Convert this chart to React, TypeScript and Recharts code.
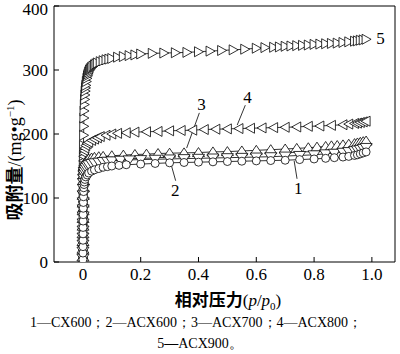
import React from "react";
import {
  ScatterChart,
  XAxis,
  YAxis,
  Scatter,
  ReferenceLine,
  ReferenceDot,
} from "recharts";

// [p/p0, adsorbed amount mg/g]
const cx600: [number, number][] = [
  [0.0001, 4], [0.0002, 14], [0.0003, 24], [0.0004, 34], [0.0005, 44], [0.0006, 54],
  [0.0008, 64], [0.001, 74], [0.0012, 84], [0.0015, 93], [0.002, 102], [0.0025, 110],
  [0.003, 116], [0.004, 121], [0.005, 125], [0.007, 129], [0.01, 133], [0.015, 136],
  [0.02, 139], [0.03, 142], [0.04, 144], [0.055, 146], [0.07, 148], [0.085, 149],
  [0.1, 150], [0.125, 151], [0.15, 152], [0.2, 153], [0.25, 154], [0.3, 155],
  [0.35, 155.5], [0.4, 156], [0.45, 156.5], [0.5, 157], [0.55, 157.5], [0.6, 158],
  [0.65, 158.5], [0.7, 159], [0.75, 160], [0.8, 161], [0.84, 162], [0.87, 163],
  [0.9, 164], [0.92, 165], [0.94, 166.5], [0.95, 167.5], [0.96, 169], [0.97, 170.5],
  [0.98, 172],
];

const acx600: [number, number][] = [
  [0.0001, 6], [0.0002, 17], [0.0003, 28], [0.0004, 39], [0.0005, 50], [0.0006, 61],
  [0.0008, 72], [0.001, 83], [0.0012, 94], [0.0015, 105], [0.002, 115], [0.0025, 124],
  [0.003, 131], [0.004, 137], [0.005, 141], [0.007, 145], [0.01, 148], [0.015, 150.5],
  [0.02, 152], [0.03, 154], [0.04, 155], [0.055, 156], [0.07, 157], [0.085, 157.5],
  [0.1, 158], [0.13, 159], [0.16, 159.5], [0.2, 160], [0.25, 160.5], [0.3, 161],
  [0.35, 161.5], [0.4, 162], [0.45, 162.5], [0.5, 163], [0.55, 163.5], [0.6, 164],
  [0.65, 164.5], [0.7, 165.5], [0.75, 166.5], [0.8, 167.5], [0.84, 169], [0.87, 170],
  [0.9, 171.5], [0.92, 172.5], [0.94, 174], [0.95, 175], [0.96, 176], [0.97, 177.5],
  [0.98, 179],
];

const acx700: [number, number][] = [
  [0.0001, 8], [0.0002, 20], [0.0003, 32], [0.0004, 44], [0.0005, 56], [0.0006, 68],
  [0.0008, 80], [0.001, 92], [0.0012, 104], [0.0015, 116], [0.002, 127], [0.0025, 136],
  [0.003, 142], [0.004, 147], [0.005, 150], [0.007, 154], [0.01, 157], [0.015, 159.5],
  [0.02, 161], [0.03, 162.5], [0.04, 163.5], [0.055, 164.5], [0.07, 165], [0.1, 166],
  [0.14, 167], [0.18, 168], [0.22, 168.5], [0.26, 169.5], [0.3, 170], [0.35, 170.5],
  [0.4, 171], [0.45, 172], [0.5, 172.5], [0.55, 173.5], [0.6, 174.5], [0.65, 175.5],
  [0.7, 176.5], [0.74, 177.5], [0.78, 178.5], [0.81, 179.5], [0.84, 180.5], [0.86, 181.5],
  [0.88, 182], [0.9, 183], [0.92, 184], [0.94, 185], [0.95, 186], [0.96, 187],
  [0.97, 188], [0.98, 189],
];

const acx800: [number, number][] = [
  [0.0001, 10], [0.0002, 24], [0.0003, 38], [0.0004, 52], [0.0005, 66], [0.0006, 80],
  [0.0008, 94], [0.001, 108], [0.0012, 122], [0.0015, 136], [0.002, 148], [0.0025, 158],
  [0.003, 165], [0.004, 170], [0.005, 174], [0.007, 178], [0.01, 182], [0.015, 185],
  [0.02, 187], [0.03, 190], [0.04, 192], [0.05, 194], [0.06, 196], [0.08, 198],
  [0.1, 200], [0.12, 201], [0.15, 202], [0.18, 203], [0.22, 203.5], [0.26, 204],
  [0.3, 205], [0.34, 205.5], [0.38, 206], [0.42, 207], [0.46, 207.5], [0.5, 208],
  [0.54, 208.5], [0.58, 209], [0.62, 209.5], [0.66, 210], [0.7, 210.5], [0.74, 211],
  [0.78, 212], [0.82, 212.5], [0.86, 213.5], [0.9, 214.5], [0.92, 215.5], [0.94, 216.5],
  [0.95, 217], [0.96, 218], [0.97, 219], [0.98, 220],
];

const acx900: [number, number][] = [
  [0.0001, 6], [0.0002, 22], [0.0003, 38], [0.0004, 54], [0.0005, 70], [0.0006, 86],
  [0.0008, 102], [0.001, 118], [0.0012, 134], [0.0015, 150], [0.0018, 166], [0.002, 182],
  [0.0025, 198], [0.003, 212], [0.0035, 225], [0.004, 236], [0.005, 246], [0.006, 254],
  [0.007, 261], [0.008, 267], [0.009, 272], [0.01, 276], [0.012, 282], [0.014, 287],
  [0.016, 291], [0.018, 294], [0.02, 297], [0.023, 300], [0.026, 302], [0.03, 304],
  [0.035, 306], [0.04, 308], [0.045, 309.5], [0.05, 311], [0.06, 313], [0.07, 314.5],
  [0.08, 316], [0.09, 317], [0.1, 318], [0.12, 320], [0.14, 321], [0.16, 322.5],
  [0.18, 323.5], [0.2, 325], [0.24, 326], [0.28, 326.5], [0.32, 327], [0.36, 327.5],
  [0.4, 328.5], [0.44, 329.5], [0.48, 330.5], [0.52, 331.5], [0.56, 332.5], [0.6, 334],
  [0.63, 335], [0.66, 335.5], [0.68, 336], [0.7, 337], [0.72, 337.5], [0.74, 338],
  [0.76, 338.5], [0.78, 339], [0.8, 340], [0.82, 340.5], [0.84, 341], [0.86, 341.5],
  [0.88, 342], [0.9, 343], [0.92, 344], [0.94, 345], [0.95, 345.5], [0.96, 346.5],
  [0.97, 347], [0.98, 348],
];

const xTicks = [0, 0.2, 0.4, 0.6, 0.8, 1.0];
const yTicks = [0, 100, 200, 300, 400];

const toPts = (arr: [number, number][]) => arr.map(([p, v]) => ({ p, v }));

const S = "#000";
const SW = 0.8;
const SERIF = "'Liberation Serif', serif";

const Circle = (props: any) => (
  <circle cx={props.cx} cy={props.cy} r={4} fill="#fff" stroke={S} strokeWidth={SW} />
);
const TriUp = (props: any) => {
  const { cx, cy } = props;
  return <path d={`M${cx},${cy - 5}L${cx + 6},${cy + 4}L${cx - 6},${cy + 4}Z`} fill="#fff" stroke={S} strokeWidth={SW} />;
};
const TriDown = (props: any) => {
  const { cx, cy } = props;
  return <path d={`M${cx},${cy + 5}L${cx + 6},${cy - 4}L${cx - 6},${cy - 4}Z`} fill="#fff" stroke={S} strokeWidth={SW} />;
};
const TriLeft = (props: any) => {
  const { cx, cy } = props;
  return <path d={`M${cx - 5},${cy}L${cx + 4},${cy - 5}L${cx + 4},${cy + 5}Z`} fill="#fff" stroke={S} strokeWidth={SW} />;
};
const TriRight = (props: any) => {
  const { cx, cy } = props;
  return <path d={`M${cx + 5},${cy}L${cx - 4},${cy - 5}L${cx - 4},${cy + 5}Z`} fill="#fff" stroke={S} strokeWidth={SW} />;
};

const XTick = (props: any) => {
  const { x, y, payload } = props;
  const v = payload.value as number;
  return (
    <text x={x} y={y + 12} textAnchor="middle" style={{ fontFamily: SERIF, fontSize: 17 }} fill="#000">
      {v === 0 ? "0" : v.toFixed(1)}
    </text>
  );
};
const YTick = (props: any) => {
  const { x, y, payload } = props;
  return (
    <text x={x} y={y + 6} textAnchor="end" style={{ fontFamily: SERIF, fontSize: 17 }} fill="#000">
      {payload.value}
    </text>
  );
};

const numLabel = (value: string) => ({
  value,
  position: "center" as const,
  style: { fontFamily: SERIF, fontSize: 17, fill: "#000" },
});

export default function App() {
  return (
    <div style={{ position: "absolute", left: 0, top: 0, width: 400, height: 354, background: "#fff", fontFamily: SERIF }}>
      <ScatterChart width={400} height={300} margin={{ top: 6, right: 5, bottom: 0, left: 0 }}>
        <XAxis
          type="number"
          dataKey="p"
          domain={[-0.1, 1.08]}
          ticks={xTicks}
          allowDataOverflow
          height={38}
          tickSize={-5}
          tickMargin={11}
          tick={<XTick />}
          axisLine={{ stroke: S, strokeWidth: 1 }}
          tickLine={{ stroke: S, strokeWidth: 1 }}
        />
        <YAxis
          type="number"
          dataKey="v"
          domain={[0, 400]}
          ticks={yTicks}
          allowDataOverflow
          width={54}
          tickSize={-5}
          tickMargin={11}
          tick={<YTick />}
          axisLine={{ stroke: S, strokeWidth: 1 }}
          tickLine={{ stroke: S, strokeWidth: 1 }}
        />
        <ReferenceLine y={400} stroke={S} strokeWidth={1} />
        <ReferenceLine x={1.08} stroke={S} strokeWidth={1} />
        <Scatter data={toPts(acx900)} shape={TriRight} line={{ stroke: S, strokeWidth: SW }} isAnimationActive={false} />
        <Scatter data={toPts(acx800)} shape={TriLeft} line={{ stroke: S, strokeWidth: SW }} isAnimationActive={false} />
        <Scatter data={toPts(acx700)} shape={TriUp} line={{ stroke: S, strokeWidth: SW }} isAnimationActive={false} />
        <Scatter data={toPts(acx600)} shape={TriDown} line={{ stroke: S, strokeWidth: SW }} isAnimationActive={false} />
        <Scatter data={toPts(cx600)} shape={Circle} line={{ stroke: S, strokeWidth: SW }} isAnimationActive={false} />
        {/* leader lines for curve numbers */}
        <ReferenceLine segment={[{ x: 0.562, y: 245 }, { x: 0.534, y: 214 }]} stroke={S} strokeWidth={0.8} />
        <ReferenceLine segment={[{ x: 0.403, y: 233 }, { x: 0.359, y: 178 }]} stroke={S} strokeWidth={0.8} />
        <ReferenceLine segment={[{ x: 0.303, y: 156 }, { x: 0.321, y: 127 }]} stroke={S} strokeWidth={0.8} />
        <ReferenceLine segment={[{ x: 0.731, y: 158 }, { x: 0.741, y: 130 }]} stroke={S} strokeWidth={0.8} />
        <ReferenceDot x={1.03} y={350} r={0} fill="none" stroke="none" label={numLabel("5")} />
        <ReferenceDot x={0.57} y={258} r={0} fill="none" stroke="none" label={numLabel("4")} />
        <ReferenceDot x={0.41} y={247} r={0} fill="none" stroke="none" label={numLabel("3")} />
        <ReferenceDot x={0.32} y={112} r={0} fill="none" stroke="none" label={numLabel("2")} />
        <ReferenceDot x={0.745} y={116} r={0} fill="none" stroke="none" label={numLabel("1")} />
      </ScatterChart>
      <div
        style={{
          position: "absolute",
          left: 13,
          top: 160,
          transform: "translate(-50%, -50%) rotate(-90deg)",
          whiteSpace: "nowrap",
          fontFamily: SERIF,
          fontSize: 18,
          color: "#000",
        }}
      >
        <span style={{ fontFamily: "'Noto Sans CJK SC'", fontWeight: "bold" }}>吸附量</span>
        /(mg•g<sup style={{ fontSize: 11 }}>−1</sup>)
      </div>
      <div
        style={{
          position: "absolute",
          left: 228,
          top: 299,
          transform: "translate(-50%, -50%)",
          whiteSpace: "nowrap",
          fontFamily: SERIF,
          fontSize: 17,
          color: "#000",
        }}
      >
        <span style={{ fontFamily: "'Noto Sans CJK SC'", fontWeight: "bold" }}>相对压力</span>
        (<i>p</i>/<i>p</i><sub style={{ fontSize: 11 }}>0</sub>)
      </div>
      <div
        style={{
          position: "absolute",
          left: 196,
          top: 323,
          transform: "translate(-50%, -50%)",
          whiteSpace: "nowrap",
          fontFamily: SERIF,
          fontSize: 14,
          color: "#000",
        }}
      >
        1—CX600；2—ACX600；3—ACX700；4—ACX800；
      </div>
      <div
        style={{
          position: "absolute",
          left: 200,
          top: 344,
          transform: "translate(-50%, -50%)",
          whiteSpace: "nowrap",
          fontFamily: SERIF,
          fontSize: 14,
          color: "#000",
        }}
      >
        5<b>—</b>ACX900。
      </div>
    </div>
  );
}
